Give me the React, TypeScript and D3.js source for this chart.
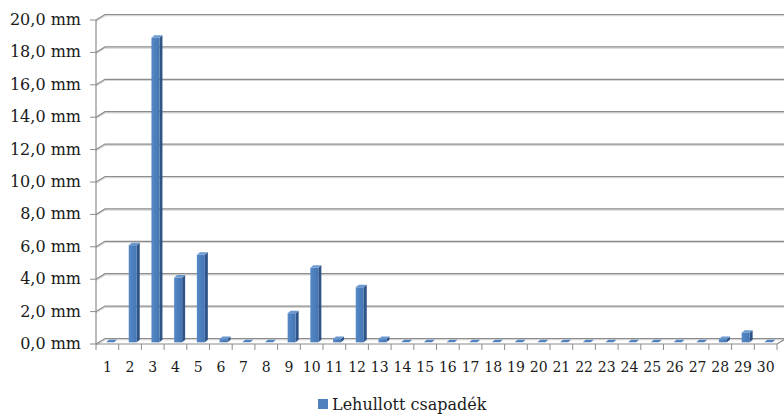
import React, { useRef, useEffect } from 'react';
import * as d3 from 'd3';

const days = d3.range(1, 31).map(String);
const rainfall = [0, 6.0, 18.8, 4.0, 5.4, 0.2, 0, 0, 1.8, 4.6, 0.2, 3.4, 0.2, 0, 0, 0, 0, 0, 0, 0, 0, 0, 0, 0, 0, 0, 0, 0.2, 0.6, 0];
const yTicks = [0, 2, 4, 6, 8, 10, 12, 14, 16, 18, 20];
const seriesName = 'Lehullott csapadék';

const width = 784;
const height = 420;
// oblique depth of the 3D box
const DX = 9;
const DY = -5.5;

function App() {
  const ref = useRef<SVGSVGElement>(null);

  useEffect(() => {
    const svg = d3.select(ref.current);
    svg.selectAll('*').remove();

    const x = d3.scaleBand().domain(days).range([96, 777]).padding(0);
    const y = d3.scaleLinear().domain([0, 20]).range([344, 20]);
    const font = "'DejaVu Serif', serif";

    const defs = svg.append('defs');
    const grad = defs.append('linearGradient').attr('id', 'front').attr('x1', 0).attr('x2', 1);
    grad.append('stop').attr('offset', 0).attr('stop-color', '#5588c6');
    grad.append('stop').attr('offset', 1).attr('stop-color', '#4676b4');

    // gridlines on side wall + back wall
    const grid = svg.append('g');
    yTicks.forEach(t => {
      const yf = y(t);
      const pts: [number, number][] = [[96, yf], [96 + DX, yf + DY], [786, yf + DY]];
      grid.append('polyline')
        .attr('points', pts.map(p => `${p[0]},${p[1] + 1.2}`).join(' '))
        .attr('fill', 'none').attr('stroke', '#d6d6d6').attr('stroke-width', 1.2);
      grid.append('polyline')
        .attr('points', pts.map(p => p.join(',')).join(' '))
        .attr('fill', 'none').attr('stroke', '#8c8c8c').attr('stroke-width', 1.2);
    });

    // floor front edge
    svg.append('polyline')
      .attr('points', `96,${y(0)} 777,${y(0)} ${777 + DX},${y(0) + DY}`)
      .attr('fill', 'none').attr('stroke', '#8c8c8c').attr('stroke-width', 1.2);

    // front vertical axis
    svg.append('line')
      .attr('x1', 96).attr('x2', 96).attr('y1', y(20)).attr('y2', y(0))
      .attr('stroke', '#8c8c8c').attr('stroke-width', 1.2);

    svg.append('g').selectAll('line')
      .data(yTicks).enter().append('line')
      .attr('x1', 90).attr('x2', 96)
      .attr('y1', d => y(d)).attr('y2', d => y(d))
      .attr('stroke', '#8c8c8c');

    svg.append('g').selectAll('text')
      .data(yTicks).enter().append('text')
      .text(d => d3.format('.1f')(d).replace('.', ',') + ' mm')
      .attr('x', 81).attr('y', d => y(d) + 5)
      .attr('text-anchor', 'end')
      .style('font-family', font).style('font-size', '16px')
      .attr('fill', '#1a1a1a');

    // x ticks + labels
    const xb = d3.range(0, 31).map(i => 96 + i * x.bandwidth());
    svg.append('g').selectAll('line')
      .data(xb).enter().append('line')
      .attr('x1', d => d).attr('x2', d => d)
      .attr('y1', y(0)).attr('y2', y(0) + 6)
      .attr('stroke', '#8c8c8c');

    svg.append('g').selectAll('text')
      .data(days).enter().append('text')
      .text(d => d)
      .attr('x', d => x(d)! + x.bandwidth() / 2)
      .attr('y', 372)
      .attr('text-anchor', 'middle')
      .style('font-family', font).style('font-size', '14px')
      .attr('fill', '#1a1a1a');

    // bars
    const bw = 8;
    const f0 = 0.3;
    const bdx = 3;
    const bdy = -2.5;
    const bars = svg.append('g');
    days.forEach((d, i) => {
      const v = rainfall[i];
      const cx = x(d)! + x.bandwidth() / 2 + DX * f0;
      const x0 = cx - bw / 2;
      const x1 = cx + bw / 2;
      const yb = y(0) + DY * f0;
      const yt = y(v) + DY * f0;
      if (v > 0) {
        bars.append('polygon')
          .attr('points', `${x1},${yt} ${x1 + bdx},${yt + bdy} ${x1 + bdx},${yb + bdy} ${x1},${yb}`)
          .attr('fill', '#2f5487');
        bars.append('rect')
          .attr('x', x0).attr('y', yt)
          .attr('width', bw).attr('height', yb - yt)
          .attr('fill', 'url(#front)');
      }
      bars.append('polygon')
        .attr('points', `${x0},${yt} ${x0 + bdx},${yt + bdy} ${x1 + bdx},${yt + bdy} ${x1},${yt}`)
        .attr('fill', v > 0 ? '#6b98d0' : '#4f80bf');
    });

    // legend
    const legend = svg.append('g');
    legend.append('rect')
      .attr('x', 318).attr('y', 399).attr('width', 10).attr('height', 10)
      .attr('fill', '#4f81bd');
    legend.append('text')
      .text(seriesName)
      .attr('x', 332).attr('y', 410)
      .style('font-family', font).style('font-size', '16px')
      .attr('fill', '#1a1a1a');
  }, []);

  return (
    <svg ref={ref} width={width} height={height}
      style={{ position: 'absolute', left: 0, top: 0, background: '#fff' }}></svg>
  );
}

export default App;
